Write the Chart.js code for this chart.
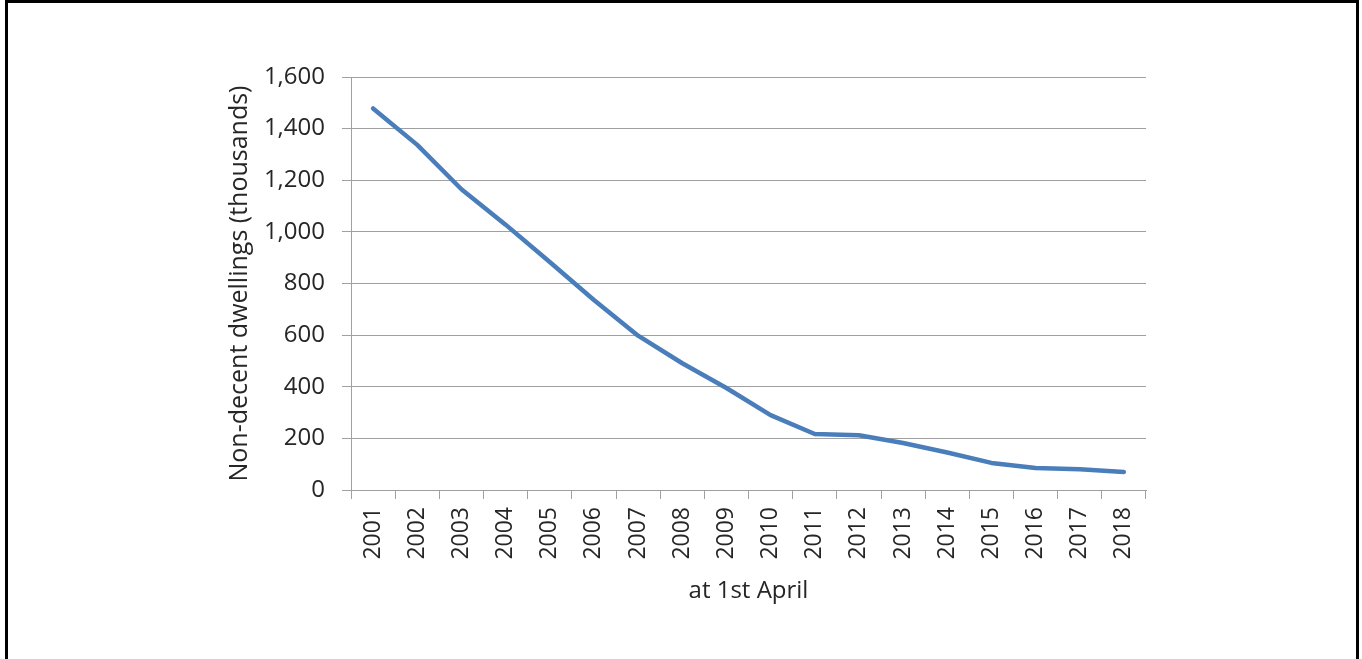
<!DOCTYPE html>
<html>
<head>
<meta charset="utf-8">
<script src="https://cdn.jsdelivr.net/npm/chart.js@4"></script>
<style>
    html, body { margin: 0; padding: 0; background: #fff; }
    #frame {
        position: absolute; left: 5px; top: 0; width: 1348px; height: 680px;
        border-left: 3px solid #000; border-top: 3px solid #000; border-right: 3px solid #000;
    }
    #chart { position: absolute; left: 0; top: 0; }
</style>
</head>
<body>
<div id="frame"></div>
<canvas id="chart" width="1362" height="659"></canvas>
<script>
// Valores (milhares de domicílios)
const years = ['2001', '2002', '2003', '2004', '2005', '2006', '2007', '2008', '2009',
               '2010', '2011', '2012', '2013', '2014', '2015', '2016', '2017', '2018'];
const nonDecent = [1478, 1337, 1165, 1028, 883, 736, 598, 491, 395,
                   290, 217, 212, 182, 145, 105, 85, 80, 70];
const yTicks = [0, 200, 400, 600, 800, 1000, 1200, 1400, 1600];

const FONT = "'Open Sans', 'Liberation Sans', sans-serif";
const TXT = '#262626';
const GRID = '#a0a0a0';

const ctx = document.getElementById('chart').getContext('2d');
new Chart(ctx, {
    type: 'line',
    data: {
        labels: years,
        datasets: [{
            label: 'Non-decent dwellings',
            data: nonDecent,
            borderColor: '#4a7ebb',
            borderWidth: 4.5,
            borderCapStyle: 'round',
            borderJoinStyle: 'round',
            pointRadius: 0,
            tension: 0
        }]
    },
    options: {
        responsive: false,
        animation: false,
        layout: { padding: { left: 225, right: 216, top: 77, bottom: 53 } },
        plugins: { legend: { display: false }, tooltip: { enabled: false } },
        scales: {
            x: {
                offset: true,
                afterFit: (s) => { s.height = 116; },
                grid: { offset: true, drawOnChartArea: false, drawTicks: true, tickLength: 9, color: GRID, lineWidth: 1 },
                border: { color: GRID, width: 1 },
                ticks: { color: TXT, font: { family: FONT, size: 23 }, minRotation: 90, maxRotation: 90, padding: 8, autoSkip: false },
                title: { display: true, text: 'at 1st April', color: TXT, font: { family: FONT, size: 24 }, padding: 0 }
            },
            y: {
                min: 0,
                max: 1600,
                afterFit: (s) => { s.width = 126; },
                afterBuildTicks: (s) => { s.ticks = yTicks.map(v => ({ value: v })); },
                grid: { color: GRID, lineWidth: 1, tickLength: 9 },
                border: { color: GRID, width: 1 },
                ticks: {
                    color: TXT, font: { family: FONT, size: 24 }, padding: 17,
                    callback: (v) => v.toString().replace(/\B(?=(\d{3})+(?!\d))/g, ',')
                },
                title: { display: true, text: 'Non-decent dwellings (thousands)', color: TXT, font: { family: FONT, size: 25 }, padding: 0 }
            }
        }
    }
});
</script>
</body>
</html>
